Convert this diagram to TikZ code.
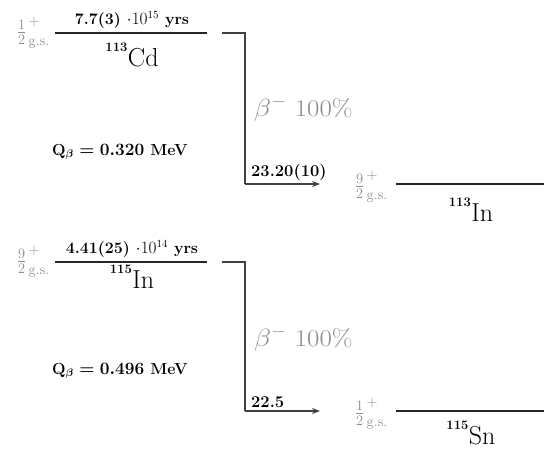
\documentclass[tikz,border=0pt]{standalone}
\usepackage{amsmath,bm}
\usetikzlibrary{arrows.meta}
\definecolor{lvl}{gray}{0.15}
\definecolor{arr}{gray}{0.25}
\definecolor{lab}{gray}{0.55}
\newcommand{\nuc}[2]{\raisebox{15pt}{\fontsize{13}{13}\bfseries #1}\kern0.5pt#2}
\tikzset{
  level/.style={line width=1.8pt,draw=lvl},
  decay/.style={line width=1.8pt,draw=arr},
  decayarrow/.style={decay,-{Stealth[length=8pt,width=6pt]}},
  spin/.style={text=lab,font=\fontsize{22}{24}\selectfont,inner sep=0pt},
  halflife/.style={font=\bfseries\fontsize{16}{18}\selectfont,inner sep=0pt},
  nucl/.style={font=\fontsize{26}{28}\selectfont,inner sep=0pt,anchor=base},
  branch/.style={text=lab,font=\fontsize{24}{26}\selectfont,inner sep=0pt,anchor=base west},
  qval/.style={font=\bfseries\boldmath\fontsize{16}{18}\selectfont,inner sep=0pt},
  inten/.style={font=\bfseries\fontsize{16.5}{18}\selectfont,inner sep=0pt,anchor=south west}
}
\newcommand{\spinlab}[2]{$\frac{#1}{#2}^{\,+}_{\,\mathrm{g.s.}}$}
\begin{document}
\begin{tikzpicture}[x=1pt,y=-1pt]
\useasboundingbox[fill=white] (0,0) rectangle (544,450);
% ---- 113Cd -> 113In
\coordinate (cdL) at (55,33);
\coordinate (cdR) at (207,33);
\draw[level] (cdL) -- (cdR);
\node[spin,anchor=east] (cdspin) at (50,33) {\spinlab{1}{2}};
\node[halflife,anchor=south] (cdhl) at (132,29) {7.7(3) $\cdot 10^{15}$ yrs};
\node[nucl] (cdname) at (132,66) {\nuc{113}{Cd}};
\coordinate (a1) at (222,33);
\coordinate (a1c) at (245,33);
\coordinate (a1d) at (245,184);
\coordinate (a1e) at (320,184);
\draw[decay] (a1) -- (a1c) -- (a1d);
\draw[decayarrow] (a1d) -- (a1e);
\node[branch,xscale=1.12] (b1) at (254,116) {$\beta^{-}$ 100\%};
\node[qval] (q1) at (120,152) {Q$_{\beta}=0.320$ MeV};
\node[inten] (i1) at (251,181) {23.20(10)};
\node[spin,anchor=east] (in3spin) at (388,187) {\spinlab{9}{2}};
\coordinate (inL) at (396,184);
\coordinate (inR) at (544,184);
\draw[level] (inL) -- (inR);
\node[nucl] (inname) at (471,221) {\nuc{113}{In}};
% ---- 115In -> 115Sn
\coordinate (in5L) at (55,262);
\coordinate (in5R) at (207,262);
\draw[level] (in5L) -- (in5R);
\node[spin,anchor=east] (in5spin) at (50,262) {\spinlab{9}{2}};
\node[halflife,anchor=south] (in5hl) at (132,258) {4.41(25) $\cdot 10^{14}$ yrs};
\node[nucl] (in5name) at (132,288) {\nuc{115}{In}};
\coordinate (a2) at (222,262);
\coordinate (a2c) at (245,262);
\coordinate (a2d) at (245,411);
\coordinate (a2e) at (320,411);
\draw[decay] (a2) -- (a2c) -- (a2d);
\draw[decayarrow] (a2d) -- (a2e);
\node[branch,xscale=1.12] (b2) at (254,346) {$\beta^{-}$ 100\%};
\node[qval] (q2) at (120,371) {Q$_{\beta}=0.496$ MeV};
\node[inten] (i2) at (251,408) {22.5};
\node[spin,anchor=east] (snspin) at (388,414) {\spinlab{1}{2}};
\coordinate (snL) at (396,411);
\coordinate (snR) at (544,411);
\draw[level] (snL) -- (snR);
\node[nucl] (snname) at (471,444) {\nuc{115}{Sn}};
\end{tikzpicture}
\end{document}
